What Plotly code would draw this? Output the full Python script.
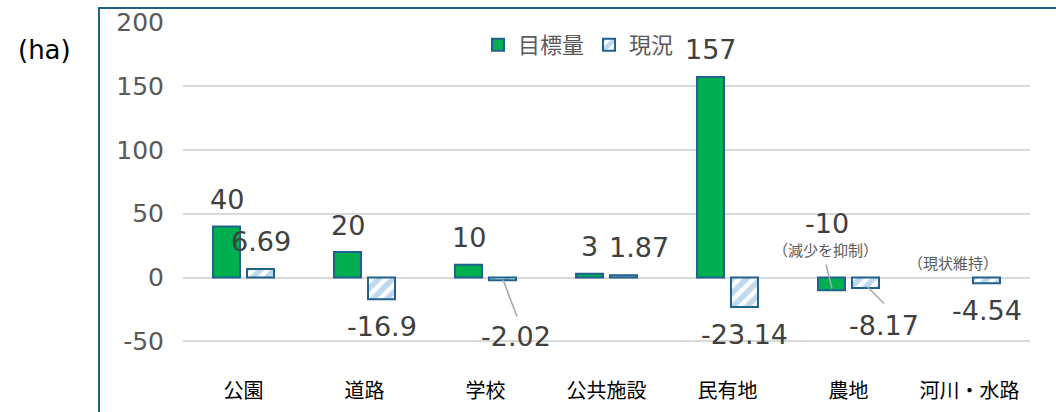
import plotly.graph_objects as go

# ---- data ----
categories = ["公園", "道路", "学校", "公共施設", "民有地", "農地", "河川・水路"]
target = [40, 20, 10, 3, 157, -10, None]          # 目標量
current = [6.69, -16.9, -2.02, 1.87, -23.14, -8.17, -4.54]  # 現況
series_names = ["目標量", "現況"]
y_ticks = [-50, 0, 50, 100, 150, 200]
y_tick_text = [str(v) for v in y_ticks]
notes = {"農地": "（減少を抑制）", "河川・水路": "（現状維持）"}
unit_label = "(ha)"

# ---- layout geometry ----
W, H = 1056, 412
ML, MR, MT, MB = 183, 26, 22, 45
YMIN, YMAX = -70, 200
PLOT_W = W - ML - MR
PLOT_H = H - MT - MB
CAT_W = PLOT_W / len(categories)
PPU = PLOT_H / (YMAX - YMIN)
SLOT = 17  # px offset of each bar from category centre

BORDER = "#20618d"
GREEN = "#00b050"
HATCH = "#7db4e0"
LABEL = "#404040"
TICK = "#595959"
NUM_FONT = "DejaVu Sans"
CJK_FONT = "Noto Sans CJK JP"

fig = go.Figure()
fig.add_trace(go.Bar(
    name=series_names[0], x=categories, y=target,
    marker=dict(color=GREEN, line=dict(color=BORDER, width=2)),
))
fig.add_trace(go.Bar(
    name=series_names[1], x=categories, y=current,
    marker=dict(color="white", line=dict(color=BORDER, width=2),
                pattern=dict(shape="/", fgcolor=HATCH, bgcolor="white",
                             size=10, solidity=0.55)),
))

annotations = []

def num_label(cat, yval, text, xshift, yshift):
    annotations.append(dict(
        x=cat, y=yval, xref="x", yref="y", text=text, showarrow=False,
        xshift=xshift, yshift=yshift, yanchor="middle", xanchor="center",
        font=dict(family=NUM_FONT, size=27, color=LABEL)))

# special offsets for labels placed away from their bars (px)
target_special = {"農地": (-22, 0, 54)}          # (xshift, y base, yshift)
current_special = {"学校": (30, -56), "農地": (35, -37), "公共施設": (32, 28)}

for c, v in zip(categories, target):
    if v is None:
        continue
    if c in target_special:
        xs, yb, ys = target_special[c]
        num_label(c, yb, f"{v:g}", xs, ys)
    else:
        num_label(c, v, f"{v:g}", -SLOT, 27 if v >= 0 else -27)

for c, v in zip(categories, current):
    if c in current_special:
        xs, ys = current_special[c]
    else:
        xs, ys = SLOT, (28 if v >= 0 else -27)
    num_label(c, v, f"{v:g}", xs, ys)

note_offsets = {"農地": (-23, 28), "河川・水路": (-17, 15)}
for c, t in notes.items():
    xs, ys = note_offsets[c]
    annotations.append(dict(
        x=c, y=0, xref="x", yref="y", text=t, showarrow=False,
        xshift=xs, yshift=ys, yanchor="middle", xanchor="center",
        font=dict(family=CJK_FONT, size=15, color=TICK)))

annotations.append(dict(
    x=(44 - ML) / PLOT_W, y=(MT + PLOT_H - 50) / PLOT_H, xref="paper", yref="paper",
    text=unit_label, showarrow=False, xanchor="center", yanchor="middle",
    font=dict(family=NUM_FONT, size=26, color="#000000")))

# leader lines: (category, (dx0, dy0), (dx1, dy1)) px relative to category centre / zero line
leaders = [
    ("学校", (17.5, 2), (31.5, 39)),
    ("農地", (18.5, 9), (35.5, 26)),
    ("農地", (-22.5, -13), (-16.5, 11)),
]
shapes = []
for c, (ax0, ay0), (ax1, ay1) in leaders:
    i = categories.index(c)
    shapes.append(dict(
        type="line", xref="x", yref="y",
        x0=i + ax0 / CAT_W, y0=-ay0 / PPU, x1=i + ax1 / CAT_W, y1=-ay1 / PPU,
        line=dict(color="#a6a6a6", width=1.5), layer="above"))

# chart frame (left and top edges visible)
shapes.append(dict(
    type="rect", xref="paper", yref="paper",
    x0=(99 - ML) / PLOT_W, x1=1.3, y0=-0.5, y1=(MT + PLOT_H - 8) / PLOT_H,
    line=dict(color=BORDER, width=2), fillcolor="rgba(0,0,0,0)", layer="above"))

fig.update_layout(
    width=W, height=H,
    margin=dict(l=ML, r=MR, t=MT, b=MB, pad=0, autoexpand=False),
    paper_bgcolor="white", plot_bgcolor="white",
    barmode="group", bargap=0.438, bargroupgap=0.206,
    showlegend=True,
    legend=dict(orientation="h", x=(478 - ML) / PLOT_W, xanchor="left",
                y=(MT + PLOT_H - 45) / PLOT_H, yanchor="middle",
                bgcolor="rgba(0,0,0,0)",
                font=dict(family=CJK_FONT, size=22, color=TICK)),
    annotations=annotations,
    shapes=shapes,
    xaxis=dict(showgrid=False, showline=False, zeroline=False, ticks="",
               automargin=False, ticklabelstandoff=10,
               tickfont=dict(family=CJK_FONT, size=20, color="#000000")),
    yaxis=dict(range=[YMIN, YMAX], tickvals=y_ticks, ticktext=y_tick_text,
               showgrid=True, automargin=False,
               gridcolor="#d9d9d9", gridwidth=1.5, zeroline=True,
               zerolinecolor="#d9d9d9", zerolinewidth=1.5, showline=False,
               ticks="", ticklabelstandoff=18,
               tickfont=dict(family=NUM_FONT, size=25, color=TICK)),
)

fig.write_html("out.html", config={"displayModeBar": False},
               post_script="document.body.style.margin='0';")
